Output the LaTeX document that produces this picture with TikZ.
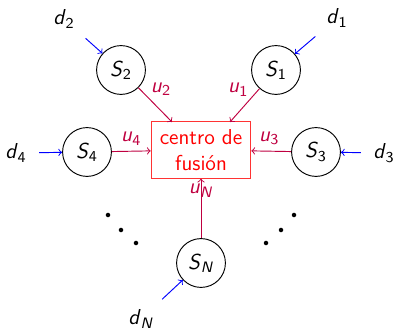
\documentclass[tikz,border=0pt]{standalone}
\usetikzlibrary{positioning}
\renewcommand{\familydefault}{\sfdefault}
\newcommand{\sv}[2]{\textit{#1}\textsubscript{#2}}

\tikzset{
  sensor/.style={draw, circle, minimum size=26pt, inner sep=0pt},
  fusion/.style={draw=red!80, text=red, align=center, minimum width=53pt, minimum height=30pt, inner sep=2pt},
  dlink/.style={->, blue, shorten <=3pt},
  ulink/.style={->, purple},
  ulabel/.style={text=purple, inner sep=1pt},
  dotmark/.style={fill, circle, inner sep=0pt, minimum size=2.4pt}
}

\begin{document}
\begin{tikzpicture}[x=0.0187cm, y=-0.0187cm, line width=0.5pt, font=\fontsize{11.5}{13.5}\selectfont]

\useasboundingbox (0,0) rectangle (396,329);

% fusion centre
\node[fusion] (fc) at (201,150) {centro de\\fusi\'on};

% sensors
\node[sensor] (s1) at (276,70) {\sv{S}{1}};
\node[sensor] (s2) at (121,70) {\sv{S}{2}};
\node[sensor] (s3) at (316,152) {\sv{S}{3}};
\node[sensor] (s4) at (87,152) {\sv{S}{4}};
\node[sensor] (sN) at (201,263) {\sv{S}{\textit{N}}};

% disturbances
\node (d1) at (337,18) {\sv{d}{1}};
\node (d2) at (64,19) {\sv{d}{2}};
\node (d3) at (384,153) {\sv{d}{3}};
\node (d4) at (16,153) {\sv{d}{4}};
\node (dN) at (141,319) {\sv{d}{\textit{N}}};

\draw[dlink] (d1) -- (s1);
\draw[dlink] (d2) -- (s2);
\draw[dlink] (d3) -- (s3);
\draw[dlink] (d4) -- (s4);
\draw[dlink] (dN) -- (sN);

% outputs to fusion centre
\coordinate (in1) at (230,122);
\coordinate (in2) at (172,122);
\draw[ulink] (s1) -- (in1) node[ulabel, pos=0.3, above left] {\sv{u}{1}};
\draw[ulink] (s2) -- (in2) node[ulabel, pos=0.3, above right] {\sv{u}{2}};
\draw[ulink] (s3) -- (fc) node[ulabel, pos=0.55, above=2pt] {\sv{u}{3}};
\draw[ulink] (s4) -- (fc) node[ulabel, pos=0.5, above=2pt] {\sv{u}{4}};
\draw[ulink] (sN) -- (fc) node[ulabel, pos=0.8] {\sv{u}{\textit{N}}};

% dots
\foreach \x/\y [count=\i] in {108/215, 121/230, 136/243, 266/243, 281/230, 294/215}
  \node[dotmark] (dot\i) at (\x,\y) {};

\end{tikzpicture}
\end{document}
